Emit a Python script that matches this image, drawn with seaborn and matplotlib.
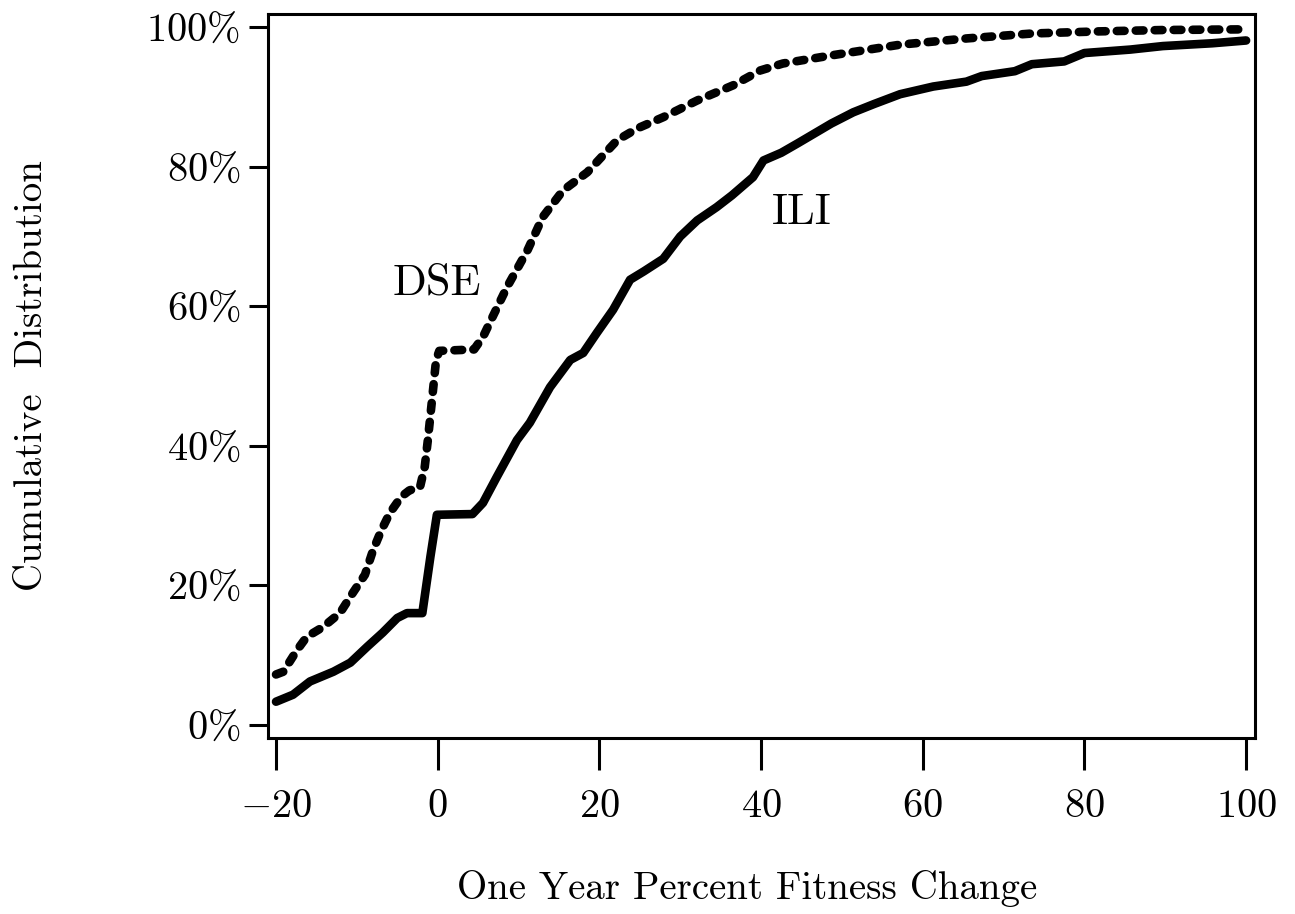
import numpy as np
import pandas as pd
import matplotlib
matplotlib.use("Agg")
import matplotlib.pyplot as plt
from matplotlib.ticker import FuncFormatter
import seaborn as sns

# values
dse_x = [-20, -19.1, -17.4, -16.2, -14.2, -12.1, -10.5, -9.0, -8.0, -7.0, -5.9, -4.5,
         -3.5, -2.2, -1.6, -1.2, -0.7, -0.2, 0.2, 4.5, 5.6, 6.8, 8.6, 11.1, 13.0, 15.5,
         18.5, 22.2, 24.7, 27.9, 32.1, 36.6, 39.9, 42.7, 48.9, 57.2, 65.5, 73.5, 81.6,
         89.7, 100]
dse_y = [7.2, 7.6, 10.7, 12.6, 14.0, 16.0, 18.9, 21.5, 25.0, 27.8, 30.4, 32.7,
         33.6, 34.0, 37.0, 41.0, 46.6, 52.3, 53.6, 53.8, 55.6, 58.5, 62.8, 68.0, 72.8, 76.6,
         79.2, 83.8, 85.5, 87.1, 89.5, 91.7, 93.8, 94.8, 96.0, 97.5, 98.4, 99.1, 99.4,
         99.6, 99.7]

ili_x = [-20, -17.9, -15.8, -12.9, -10.8, -8.7, -6.8, -5.0, -3.8, -1.9, -0.9, -0.1,
         4.3, 5.6, 7.3, 9.8, 11.4, 13.9, 16.4, 18.0, 19.7, 21.7, 23.8, 25.5, 27.9, 30.0,
         32.1, 34.5, 36.4, 39.0, 40.3, 42.5, 44.6, 48.7, 51.4, 54.0, 57.2, 61.3, 65.4,
         67.3, 71.4, 73.5, 77.5, 80.0, 85.7, 89.7, 95.8, 100]
ili_y = [3.3, 4.3, 6.2, 7.6, 8.9, 11.2, 13.2, 15.3, 16.0, 16.0, 24.1, 30.1,
         30.2, 31.8, 35.5, 40.8, 43.3, 48.4, 52.3, 53.3, 56.2, 59.5, 63.8, 65.0, 66.8, 70.0,
         72.3, 74.2, 75.9, 78.5, 80.9, 82.0, 83.4, 86.2, 87.8, 89.0, 90.4, 91.5, 92.2,
         93.0, 93.7, 94.7, 95.1, 96.3, 96.8, 97.3, 97.7, 98.1]

x_ticks = [-20, 0, 20, 40, 60, 80, 100]
y_ticks = [0, 20, 40, 60, 80, 100]

sns.set_style("ticks")
plt.rcParams["font.family"] = "serif"
plt.rcParams["font.serif"] = ["cmr10"]
plt.rcParams["mathtext.fontset"] = "cm"
plt.rcParams["axes.formatter.use_mathtext"] = True
plt.rcParams["text.color"] = "black"
plt.rcParams["axes.labelcolor"] = "black"
plt.rcParams["xtick.color"] = "black"
plt.rcParams["ytick.color"] = "black"

dse = pd.DataFrame({"change": dse_x, "cum": dse_y})
ili = pd.DataFrame({"change": ili_x, "cum": ili_y})

fig = plt.figure(figsize=(12.95, 9.14), dpi=100)
ax = fig.add_axes([0.2069, 0.1926, 0.7622, 0.7921])

sns.lineplot(data=ili, x="change", y="cum", ax=ax, sort=False, estimator=None,
             color="black", lw=6.2, solid_capstyle="round", solid_joinstyle="round")
sns.lineplot(data=dse, x="change", y="cum", ax=ax, sort=False, estimator=None,
             color="black", lw=6.2, linestyle=(0, (0.9, 1.3)),
             dash_capstyle="round", dash_joinstyle="round")

ax.set_xlim(-21, 101.1)
ax.set_ylim(-1.9, 101.9)
ax.set_xticks(x_ticks)
ax.set_yticks(y_ticks)
ax.xaxis.set_major_formatter(FuncFormatter(lambda v, p: r"$%d$" % v))
ax.yaxis.set_major_formatter(FuncFormatter(lambda v, p: r"$%d\%%$" % v))

for side in ["top", "right", "bottom", "left"]:
    ax.spines[side].set_visible(True)
    ax.spines[side].set_linewidth(2.2)
    ax.spines[side].set_color("black")

ax.tick_params(axis="x", direction="out", length=23, width=2.2, pad=14,
               labelsize=29, color="black", labelcolor="black")
ax.tick_params(axis="y", direction="out", length=14, width=2.2, pad=6,
               labelsize=29, color="black", labelcolor="black")

ax.set_xlabel("One Year Percent Fitness Change", fontsize=28, color="black")
ax.set_ylabel("Cumulative  Distribution", fontsize=28, color="black")
ax.xaxis.set_label_coords(0.485, -0.182)
ax.yaxis.set_label_coords(-0.221, 0.5)

ax.text(-0.1, 63.3, "DSE", fontsize=32, ha="center", va="center", color="black")
ax.text(45, 73.4, "ILI", fontsize=32, ha="center", va="center", color="black")

fig.savefig("out.png", dpi=100)
